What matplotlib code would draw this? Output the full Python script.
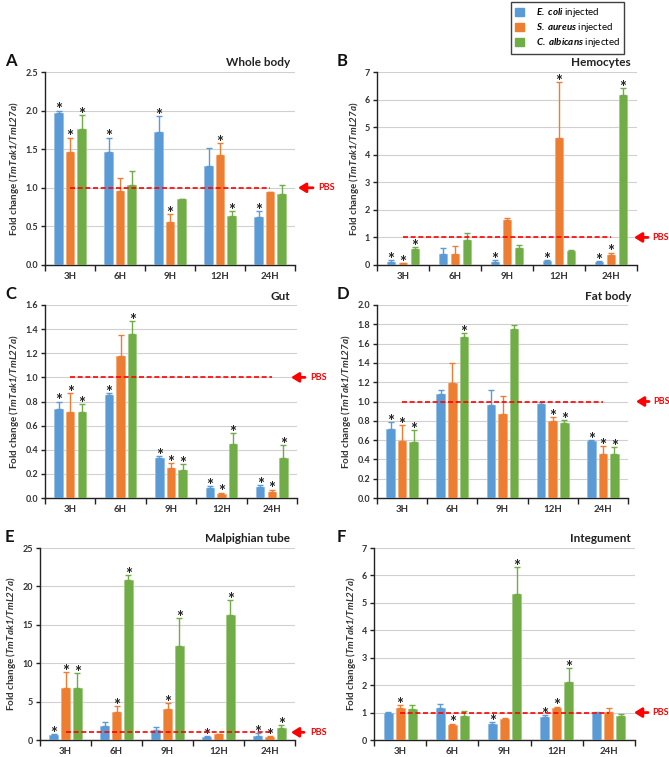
"""
TmTak1 expression after microbial challenge, six tissues (A-F).
"""

import matplotlib
matplotlib.use("Agg")
import matplotlib.pyplot as plt
import matplotlib.transforms as mtransforms
from matplotlib.patches import Patch
import numpy as np

plt.rcParams['font.family'] = ['Lato', 'DejaVu Sans']
plt.rcParams['mathtext.fontset'] = 'custom'
plt.rcParams['mathtext.bfit'] = 'Lato:italic:bold'
plt.rcParams['mathtext.it'] = 'Lato:italic'
plt.rcParams['mathtext.rm'] = 'Lato'

# ---- data -------------------------------------------------------------
time_points = ['3H', '6H', '9H', '12H', '24H']
series_names = [r'$\mathbfit{E.\ coli}$ injected',
                r'$\mathbfit{S.\ aureus}$ injected',
                r'$\mathbfit{C.\ albicans}$ injected']
colors = ['#5B9BD5', '#ED7D31', '#70AD47']

# each: [E. coli, S. aureus, C. albicans]
whole_body_mean = [[1.97, 1.47, 1.72, 1.28, 0.62],
                   [1.47, 0.96, 0.56, 1.43, 0.94],
                   [1.76, 1.04, 0.85, 0.63, 0.92]]
whole_body_sd = [[0.03, 0.18, 0.21, 0.23, 0.08],
                 [0.18, 0.17, 0.10, 0.15, 0.01],
                 [0.18, 0.18, 0.01, 0.07, 0.11]]
whole_body_sig = [[1, 1, 1, 0, 1],
                  [1, 0, 1, 1, 0],
                  [1, 0, 0, 1, 0]]

hemocytes_mean = [[0.10, 0.39, 0.12, 0.14, 0.10],
                  [0.06, 0.39, 1.65, 4.60, 0.38],
                  [0.58, 0.92, 0.60, 0.50, 6.18]]
hemocytes_sd = [[0.08, 0.21, 0.06, 0.05, 0.04],
                [0.02, 0.29, 0.04, 2.02, 0.07],
                [0.07, 0.23, 0.12, 0.05, 0.24]]
hemocytes_sig = [[1, 0, 1, 1, 1],
                 [1, 0, 0, 1, 1],
                 [1, 0, 0, 0, 1]]

gut_mean = [[0.74, 0.85, 0.33, 0.08, 0.09],
            [0.71, 1.18, 0.25, 0.03, 0.05],
            [0.71, 1.36, 0.23, 0.45, 0.33]]
gut_sd = [[0.06, 0.02, 0.02, 0.02, 0.015],
          [0.16, 0.17, 0.04, 0.015, 0.02],
          [0.07, 0.11, 0.05, 0.09, 0.11]]
gut_sig = [[1, 1, 1, 1, 1],
           [1, 0, 1, 1, 1],
           [1, 1, 1, 1, 1]]

fat_body_mean = [[0.72, 1.08, 0.96, 0.97, 0.59],
                 [0.59, 1.19, 0.87, 0.80, 0.46],
                 [0.58, 1.67, 1.75, 0.78, 0.46]]
fat_body_sd = [[0.07, 0.04, 0.16, 0.02, 0.01],
               [0.17, 0.21, 0.19, 0.04, 0.08],
               [0.12, 0.04, 0.04, 0.03, 0.07]]
fat_body_sig = [[1, 0, 0, 0, 1],
                [1, 0, 0, 1, 1],
                [1, 1, 0, 1, 1]]

malpighian_mean = [[0.7, 1.8, 1.3, 0.45, 0.55],
                   [6.8, 3.7, 4.0, 0.75, 0.45],
                   [6.8, 20.8, 12.2, 16.3, 1.6]]
malpighian_sd = [[0.1, 0.6, 0.4, 0.1, 0.3],
                 [2.0, 0.7, 0.8, 0.05, 0.1],
                 [1.9, 0.7, 3.7, 1.9, 0.4]]
malpighian_sig = [[1, 0, 0, 1, 1],
                  [1, 1, 1, 0, 1],
                  [1, 1, 1, 1, 1]]

integument_mean = [[1.00, 1.17, 0.60, 0.83, 1.00],
                   [1.18, 0.53, 0.78, 1.15, 1.02],
                   [1.13, 0.86, 5.32, 2.12, 0.86]]
integument_sd = [[0.02, 0.16, 0.06, 0.09, 0.01],
                 [0.08, 0.07, 0.02, 0.07, 0.16],
                 [0.15, 0.21, 0.98, 0.50, 0.09]]
integument_sig = [[0, 0, 1, 1, 0],
                  [1, 1, 0, 1, 0],
                  [0, 0, 1, 1, 0]]

PBS_LEVEL = 1.0

# ---- layout (pixel boxes in a 669x757 canvas) --------------------------
W, H = 669, 757
panels = [
    # letter, title, mean, sd, sig, ymax, step, decimals, (l, r, t, b), arrow head/tail/text x
    ('A', 'Whole body', whole_body_mean, whole_body_sd, whole_body_sig, 2.5, 0.5, 1,
     (45, 295, 72, 265), (298, 313, 318)),
    ('B', 'Hemocytes', hemocytes_mean, hemocytes_sd, hemocytes_sig, 7, 1, 0,
     (377, 637, 72, 265), (634, 648, 652)),
    ('C', 'Gut', gut_mean, gut_sd, gut_sig, 1.6, 0.2, 1,
     (45, 297, 305, 498), (291, 305, 310)),
    ('D', 'Fat body', fat_body_mean, fat_body_sd, fat_body_sig, 2.0, 0.2, 1,
     (377, 628, 305, 498), (636, 649, 653)),
    ('E', 'Malpighian tube', malpighian_mean, malpighian_sd, malpighian_sig, 25, 5, 0,
     (40, 295, 548, 740), (291, 304, 310)),
    ('F', 'Integument', integument_mean, integument_sd, integument_sig, 7, 1, 0,
     (374, 635, 548, 740), (634, 648, 652)),
]


def lighten(hex_color, amount=0.35):
    rgb = np.array(matplotlib.colors.to_rgb(hex_color))
    return tuple(rgb + (1 - rgb) * amount)


fig = plt.figure(figsize=(W / 100, H / 100), dpi=100)

x = np.arange(len(time_points))
offsets = [-0.23, 0.0, 0.23]
bar_w = 0.17

for letter, title, mean, sd, sig, ymax, step, dec, box, arrow_px in panels:
    l, r, t, b = box
    ax = fig.add_axes([l / W, 1 - b / H, (r - l) / W, (b - t) / H])

    for k in range(3):
        m = np.array(mean[k])
        e = np.array(sd[k])
        xs = x + offsets[k]
        ax.bar(xs, m, width=bar_w, color=colors[k], edgecolor=lighten(colors[k]),
               linewidth=0.6, zorder=3)
        ax.errorbar(xs, m, yerr=[np.zeros_like(e), e], fmt='none', ecolor=colors[k],
                    elinewidth=1.0, capsize=2.2, capthick=1.0, zorder=3)
        for xi, top, s in zip(xs, m + e, sig[k]):
            if s:
                ax.annotate('*', xy=(xi, top), xytext=(0, -3.5), textcoords='offset points',
                            ha='center', va='baseline', fontsize=12, fontweight='bold',
                            color='#222222', annotation_clip=False, zorder=4)

    # PBS reference level
    ax.plot([x[0], x[-1]], [PBS_LEVEL, PBS_LEVEL], color='#FF0000', lw=1.2,
            ls=(0, (3, 1.6)), zorder=4)
    trans = mtransforms.blended_transform_factory(fig.transFigure, ax.transData)
    head, tail, txt = arrow_px
    ax.annotate('', xy=(head / W, PBS_LEVEL), xycoords=trans,
                xytext=(tail / W, PBS_LEVEL), textcoords=trans,
                arrowprops=dict(arrowstyle='-|>,head_length=0.45,head_width=0.28',
                                color='#FF0000', lw=2.0, shrinkA=0, shrinkB=0),
                annotation_clip=False)
    ax.text(txt / W, PBS_LEVEL, 'PBS', transform=trans, color='#FF0000',
            fontsize=6.5, fontweight='bold', va='center', ha='left')

    # axes styling
    ax.set_xlim(-0.5, len(time_points) - 0.5)
    ax.set_ylim(0, ymax)
    yt = np.round(np.arange(0, ymax + step / 2, step), 3)
    ax.set_yticks(yt)
    ax.set_yticklabels([f'{v:.{dec}f}' for v in yt], fontsize=6.5, fontweight='bold',
                       color='#333333')
    ax.set_xticks(np.arange(-0.5, len(time_points)), labels=[])
    ax.set_xticks(x, minor=True)
    ax.set_xticklabels(time_points, minor=True, fontsize=7, fontweight='bold',
                       color='#333333')
    ax.tick_params(axis='x', which='major', length=4, width=1, direction='out', color='#222222')
    ax.tick_params(axis='x', which='minor', length=0, pad=5)
    ax.tick_params(axis='y', length=3, width=1, direction='out', color='#222222', pad=2)
    ax.grid(axis='y', color='#D0D0D0', lw=0.8, zorder=0)
    ax.set_axisbelow(True)
    for side in ('top', 'right'):
        ax.spines[side].set_visible(False)
    for side in ('left', 'bottom'):
        ax.spines[side].set_color('#222222')
        ax.spines[side].set_linewidth(1.0)

    ax.set_ylabel(r'Fold change ($\mathbfit{TmTak1/TmL27a}$)', fontsize=7,
                  fontweight='bold', color='#333333', labelpad=3)

    # panel title and letter
    title_x = 290 if l < 300 else 631
    fig.text(title_x / W, 1 - (t - 9) / H, title, ha='right', va='center',
             fontsize=8.5, fontweight='bold', color='#222222')
    letter_x = 5 if l < 300 else 337
    fig.text(letter_x / W, 1 - (t - 11) / H, letter, ha='left', va='center',
             fontsize=12, fontweight='bold', color='#111111')

# legend
handles = [Patch(facecolor=c, edgecolor=c) for c in colors]
leg = fig.legend(handles, series_names, loc='upper left',
                 bbox_to_anchor=(511 / W, 1 - 2 / H), fontsize=7, frameon=True,
                 fancybox=False, edgecolor='#404040', framealpha=1,
                 handlelength=0.9, handleheight=0.9, handletextpad=1.2,
                 labelspacing=0.2, borderpad=0.45, borderaxespad=0)
leg.get_frame().set_linewidth(1.0)

fig.savefig('out.png', dpi=100)
